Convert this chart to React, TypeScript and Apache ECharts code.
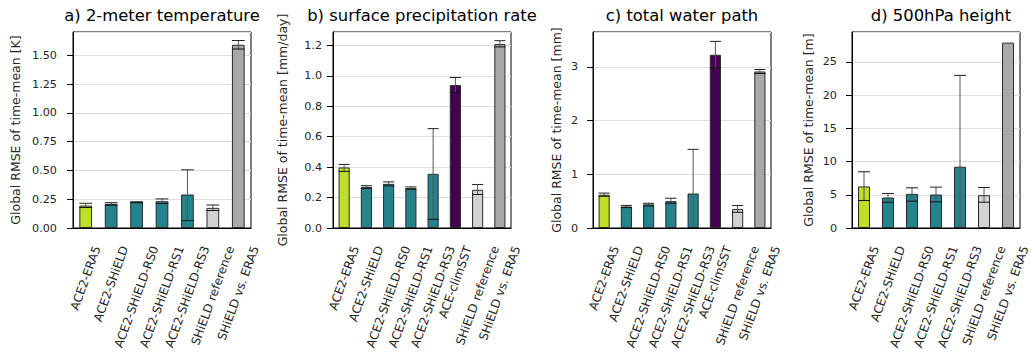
import React, { useEffect, useRef } from "react";
import * as echarts from "echarts";

const catsA = ["ACE2-ERA5", "ACE2-SHiELD", "ACE2-SHiELD-RS0", "ACE2-SHiELD-RS1", "ACE2-SHiELD-RS3", "SHiELD reference", "SHiELD vs. ERA5"];
const catsB = ["ACE2-ERA5", "ACE2-SHiELD", "ACE2-SHiELD-RS0", "ACE2-SHiELD-RS1", "ACE2-SHiELD-RS3", "ACE-climSST", "SHiELD reference", "SHiELD vs. ERA5"];

const YG = "#bddf26";
const TE = "#25838e";
const PU = "#440154";
const LG = "#d3d3d3";
const DG = "#a9a9a9";
const colorsA = [YG, TE, TE, TE, TE, LG, DG];
const colorsB = [YG, TE, TE, TE, TE, PU, LG, DG];

const t2m = [0.195, 0.21, 0.225, 0.233, 0.291, 0.175, 1.593];
const t2mLow = [0.178, 0.198, 0.221, 0.213, 0.064, 0.152, 1.556];
const t2mHigh = [0.215, 0.22, 0.228, 0.253, 0.506, 0.2, 1.63];

const precip = [0.398, 0.27, 0.29, 0.262, 0.356, 0.939, 0.251, 1.209];
const precipLow = [0.372, 0.26, 0.277, 0.255, 0.057, 0.89, 0.22, 1.19];
const precipHigh = [0.418, 0.278, 0.303, 0.27, 0.653, 0.989, 0.286, 1.231];

const twp = [0.62, 0.4, 0.44, 0.5, 0.642, 3.224, 0.355, 2.913];
const twpLow = [0.59, 0.38, 0.41, 0.46, 0, 2.975, 0.293, 2.875];
const twpHigh = [0.65, 0.42, 0.46, 0.554, 1.464, 3.473, 0.418, 2.95];

const z500 = [6.25, 4.59, 5.14, 5.04, 9.22, 4.94, 27.9];
const z500Low = [4.14, 3.88, 4.04, 3.93, 0, 3.88, null];
const z500High = [8.46, 5.2, 6.05, 6.15, 22.97, 6.1, null];

const titles = ["a) 2-meter temperature", "b) surface precipitation rate", "c) total water path", "d) 500hPa height"];
const yNames = ["Global RMSE of time-mean [K]", "Global RMSE of time-mean [mm/day]", "Global RMSE of time-mean [mm]", "Global RMSE of time-mean [m]"];

export default function App() {
  const ref = useRef<HTMLDivElement>(null);
  useEffect(() => {
    if (!ref.current) return;
    const chart = echarts.init(ref.current, null, { renderer: "svg" });
    const font = "DejaVu Sans";
    const xFs = 12;
    const canvas = document.createElement("canvas");
    const ctx = canvas.getContext("2d")!;
    ctx.font = `${xFs}px "${font}"`;
    const ROT = 70;
    const c = Math.cos((ROT * Math.PI) / 180);
    const sn = Math.sin((ROT * Math.PI) / 180);
    const lineH = 14;
    const topGap = 16;
    const makeRich = (cats: string[]) => {
      const rich: any = {};
      cats.forEach((lab, k) => {
        const L = ctx.measureText(lab).width;
        const s = (sn / 2) * L + (c / 2) * lineH + topGap;
        rich["l" + k] = {
          fontSize: xFs, fontFamily: font, color: "#262626",
          padding: [2 * c * s, 2 * sn * s, 0, 0],
        };
      });
      return rich;
    };

    const panels = [
      { cats: catsA, colors: colorsA, vals: t2m, lo: t2mLow, hi: t2mHigh, max: 1.704, interval: 0.25, dec: 2, left: 73, nameGap: 51, lm: 16 },
      { cats: catsB, colors: colorsB, vals: precip, lo: precipLow, hi: precipHigh, max: 1.288, interval: 0.2, dec: 1, left: 333, nameGap: 44, lm: 11 },
      { cats: catsB, colors: colorsB, vals: twp, lo: twpLow, hi: twpHigh, max: 3.648, interval: 1, dec: 0, left: 593, nameGap: 30, lm: 15 },
      { cats: catsA, colors: colorsA, vals: z500, lo: z500Low, hi: z500High, max: 29.5, interval: 5, dec: 0, left: 852, nameGap: 37, lm: 15 },
    ];
    const W = 178;
    const grid: any[] = [];
    const xAxis: any[] = [];
    const yAxis: any[] = [];
    const series: any[] = [];
    const graphic: any[] = [];
    panels.forEach((p, i) => {
      grid.push({ left: p.left, top: 32, width: W, height: 196, show: true, borderColor: "#000", borderWidth: 1, backgroundColor: "transparent" });
      xAxis.push({
        type: "category", gridIndex: i, data: p.cats,
        axisLine: { lineStyle: { color: "#000", width: 1 } },
        axisTick: { alignWithLabel: true, length: 5, lineStyle: { color: "#000" } },
        axisLabel: {
          rotate: ROT, interval: 0, fontSize: xFs, color: "#262626", fontFamily: font, margin: 0,
          align: "center", verticalAlign: "middle",
          formatter: (v: string, k: number) => `{l${k}|${v}}`,
          rich: makeRich(p.cats),
        },
      });
      yAxis.push({
        type: "value", gridIndex: i, min: 0, max: p.max, interval: p.interval,
        name: yNames[i], nameLocation: "middle", nameGap: p.nameGap,
        nameTextStyle: { fontSize: 12.5, color: "#262626", fontFamily: font },
        axisLine: { show: true, lineStyle: { color: "#000", width: 1 } },
        axisTick: { show: true, length: 6, lineStyle: { color: "#000" } },
        axisLabel: { fontSize: 11.2, color: "#262626", fontFamily: font, margin: p.lm, showMaxLabel: false,
          formatter: (v: number) => v.toFixed(p.dec) },
        splitLine: { show: true, lineStyle: { color: "#dedede", width: 1 } },
      });
      series.push({
        type: "bar", xAxisIndex: i, yAxisIndex: i, barWidth: "50%",
        data: p.vals.map((v, k) => ({ value: v, itemStyle: { color: p.colors[k] } })),
        itemStyle: { borderColor: "#2a2a2a", borderWidth: 1 },
      });
      const errData = p.vals.map((_, k) => [k, p.lo[k], p.hi[k]]).filter((d) => d[1] != null);
      series.push({
        type: "custom", xAxisIndex: i, yAxisIndex: i, z: 5,
        data: errData,
        renderItem: (params: any, api: any) => {
          const x = api.value(0);
          const lo = api.coord([x, api.value(1)]);
          const hi = api.coord([x, api.value(2)]);
          const half = api.size([1, 0])[0] * 0.25;
          return {
            type: "group",
            children: [
              { type: "line", shape: { x1: lo[0], y1: lo[1], x2: hi[0], y2: hi[1] }, style: { stroke: "#555", lineWidth: 1 } },
              { type: "line", shape: { x1: hi[0] - half, y1: hi[1], x2: hi[0] + half, y2: hi[1] }, style: { stroke: "#222", lineWidth: 1 } },
              { type: "line", shape: { x1: lo[0] - half, y1: lo[1], x2: lo[0] + half, y2: lo[1] }, style: { stroke: "#111", lineWidth: 1 } },
            ],
          };
        },
      });
      graphic.push({
        type: "text", x: p.left + W / 2, y: 7,
        style: { text: titles[i], font: `16.4px ${font}`, fill: "#000", textAlign: "center", textVerticalAlign: "top" },
      });
    });
    chart.setOption({ animation: false, grid, xAxis, yAxis, series, graphic, backgroundColor: "#fff" });
    return () => chart.dispose();
  }, []);
  return <div ref={ref} style={{ position: "fixed", left: 0, top: 0, width: 1031, height: 358 }} />;
}
